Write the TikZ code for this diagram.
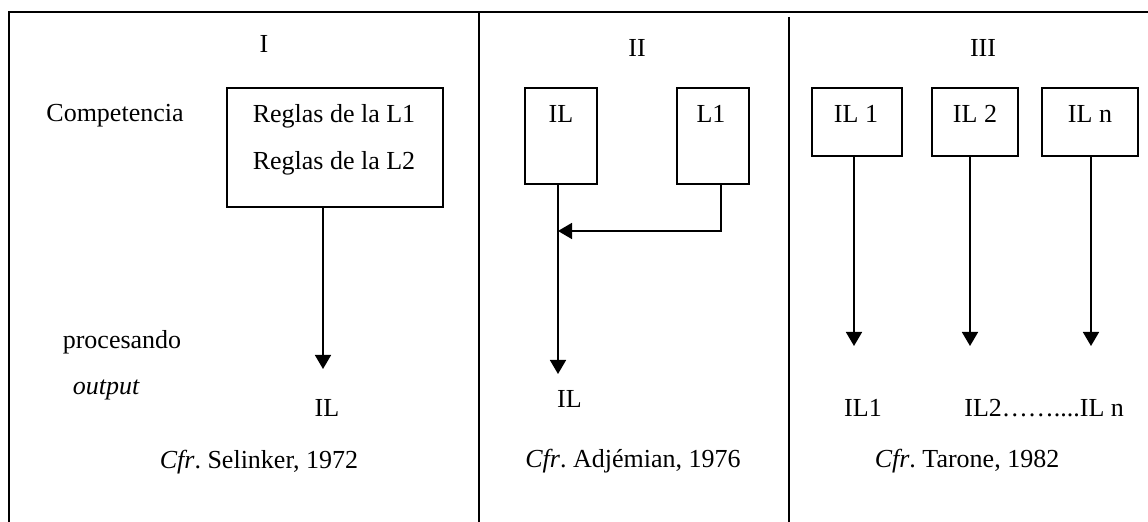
\documentclass[tikz,border=0pt]{standalone}
\usepackage{fontspec}
\setmainfont{Liberation Serif}
\usetikzlibrary{arrows.meta}
\frenchspacing
\begin{document}
\begin{tikzpicture}[x=0.5pt,y=-0.5pt,
  frame/.style={line width=1pt},
  box/.style={draw,line width=0.8pt,inner sep=0pt},
  arr/.style={line width=0.8pt,-{Triangle[length=7pt,width=8pt]}},
  conn/.style={line width=0.8pt},
  lbl/.style={anchor=base,inner sep=0pt,font=\fontsize{13}{15}\selectfont}]
\useasboundingbox (0,0) rectangle (1148,522);
% frame
\draw[frame] (9,522) -- (9,12) -- (1148,12);
\draw[frame] (479,12) -- (479,522);
\draw[frame] (789,17) -- (789,522);
% Panel I
\node[lbl] (tI) at (264,53) {I};
\node[lbl] (comp) at (115,122) {Competencia};
\node[box,minimum width=108pt,minimum height=59.5pt] (boxI) at (335,147.5) {};
\node[lbl] (r1) at (334,123) {Reglas de la L1};
\node[lbl] (r2) at (334,170) {Reglas de la L2};
\coordinate (aI) at (323,369);
\draw[arr] (boxI.south -| aI) -- (aI);
\node[lbl] (proc) at (122,349) {procesando};
\node[lbl] (outp) at (106,395) {\itshape output};
\node[lbl] (ilI) at (327,417) {IL};
\node[lbl] (cfrI) at (259,469) {\textit{Cfr}. Selinker, 1972};
% Panel II
\node[lbl] (tII) at (637,57) {II};
\node[box,minimum width=36pt,minimum height=48pt] (ilbox) at (561,136) {};
\node[box,minimum width=36pt,minimum height=48pt] (l1box) at (713,136) {};
\node[lbl] (ilt) at (561,123) {IL};
\node[lbl] (l1t) at (711,123) {L1};
\coordinate (jII) at (558,231);
\coordinate (lc) at (721,231);
\coordinate (tipII) at (558,374);
\draw[arr] (ilbox.south -| tipII) -- (tipII);
\draw[arr] (l1box.south -| lc) -- (lc) -- (jII);
\node[lbl] (ilII) at (569.5,408) {IL};
\node[lbl] (cfrII) at (633,468) {\textit{Cfr}. Adjémian, 1976};
% Panel III
\node[lbl] (tIII) at (983,57) {III};
\node[box,minimum width=45pt,minimum height=34pt] (b1) at (857,122) {};
\node[box,minimum width=43pt,minimum height=34pt] (b2) at (975,122) {};
\node[box,minimum width=48pt,minimum height=34pt] (b3) at (1090,122) {};
\node[lbl] (b1t) at (856,123) {IL 1};
\node[lbl] (b2t) at (975,123) {IL 2};
\node[lbl] (b3t) at (1090,123) {IL n};
\coordinate (t1) at (854,346);
\coordinate (t2) at (970,346);
\coordinate (t3) at (1091,346);
\draw[arr] (b1.south -| t1) -- (t1);
\draw[arr] (b2.south -| t2) -- (t2);
\draw[arr] (b3.south -| t3) -- (t3);
\node[lbl] (il1) at (863,417) {IL1};
\node[lbl,anchor=base west] (il2n) at (964,417) {IL2……....IL n};
\node[lbl] (cfrIII) at (967,468) {\textit{Cfr}. Tarone, 1982};
\end{tikzpicture}
\end{document}
